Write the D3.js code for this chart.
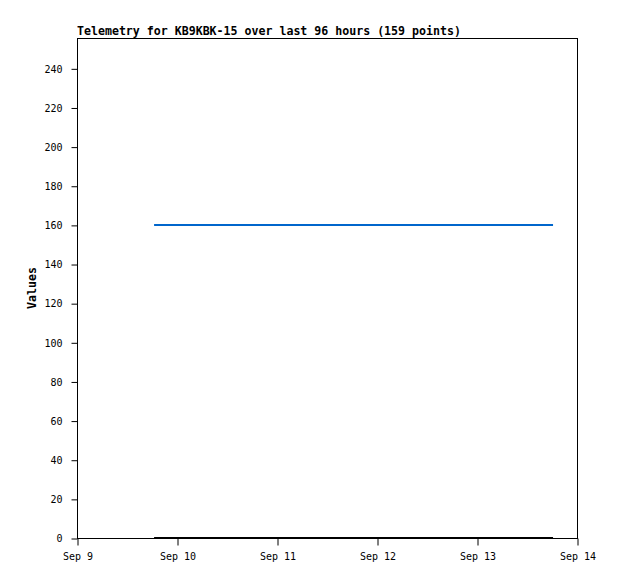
<!DOCTYPE html>
<html>
<head>
<meta charset="utf-8">
<script src="https://cdn.jsdelivr.net/npm/d3@7"></script>
<style>
    body { margin: 0; background: #fff; }
    text { font-family: "DejaVu Sans Mono", monospace; }
</style>
</head>
<body>
<script>
//telemetry series, first and last sample (values are flat across the whole window)
var times = ["2023-09-09T18:30:00", "2023-09-13T18:15:00"];
var ch1 = [160, 160];
var ch2 = [0, 0];
var seriesColors = ["#0066cc", "#000000"];
var xTicks = ["2023-09-09", "2023-09-10", "2023-09-11", "2023-09-12", "2023-09-13", "2023-09-14"];
var yTicks = [0, 20, 40, 60, 80, 100, 120, 140, 160, 180, 200, 220, 240];

window.onload = drawChart();

function drawChart() {
    var width = 618,
        height = 579;
    var margin = {top: 38, right: 41, bottom: 41, left: 77};

    var svg = d3.select("body")
        .append("svg")
        .attr("width", width)
        .attr("height", height);

    var parse = d3.timeParse("%Y-%m-%dT%H:%M:%S"),
        parseDay = d3.timeParse("%Y-%m-%d");

    var x = d3.scaleTime()
        .domain([parseDay(xTicks[0]), parseDay(xTicks[xTicks.length - 1])])
        .range([margin.left, width - margin.right]);

    var y = d3.scaleLinear()
        .domain([0, 255.5])
        .range([height - margin.bottom, margin.top]);

    //frame
    svg.append("rect")
        .attr("x", margin.left + 0.5)
        .attr("y", margin.top + 0.5)
        .attr("width", width - margin.left - margin.right)
        .attr("height", height - margin.top - margin.bottom)
        .attr("fill", "none")
        .attr("stroke", "#000")
        .attr("stroke-width", 1);

    //axes
    var xAxis = svg.append("g")
        .attr("transform", "translate(0.5," + (height - margin.bottom + 0.5) + ")")
        .call(d3.axisBottom(x)
            .tickValues(xTicks.map(parseDay))
            .tickSize(7)
            .tickPadding(7)
            .tickFormat(d3.timeFormat("%b %-d")));

    var yAxis = svg.append("g")
        .attr("transform", "translate(" + (margin.left + 0.5) + ",0.5)")
        .call(d3.axisLeft(y)
            .tickValues(yTicks)
            .tickSize(6)
            .tickPadding(9));

    [xAxis, yAxis].forEach(function(g) {
        g.select(".domain").remove();
        g.selectAll("line").attr("stroke", "#000");
        g.selectAll("text")
            .attr("fill", "#000")
            .style("font-size", "10px");
    });

    //series lines
    var line = d3.line()
        .x(function(d) { return x(d.t); })
        .y(function(d) { return y(d.v); });

    [ch1, ch2].forEach(function(vals, i) {
        var pts = times.map(function(t, j) { return {t: parse(t), v: vals[j]}; });
        svg.append("path")
            .datum(pts)
            .attr("fill", "none")
            .attr("stroke", seriesColors[i])
            .attr("stroke-width", 2)
            .attr("d", line);
    });

    //title
    svg.append("text")
        .attr("x", margin.left)
        .attr("y", 35)
        .style("font-size", "11.6px")
        .style("font-weight", "bold")
        .text("Telemetry for KB9KBK-15 over last 96 hours (159 points)");

    //y label
    svg.append("text")
        .attr("transform", "translate(36," + ((margin.top + height - margin.bottom) / 2) + ") rotate(-90)")
        .attr("text-anchor", "middle")
        .style("font-size", "11.6px")
        .style("font-weight", "bold")
        .text("Values");
}
</script>
</body>
</html>
